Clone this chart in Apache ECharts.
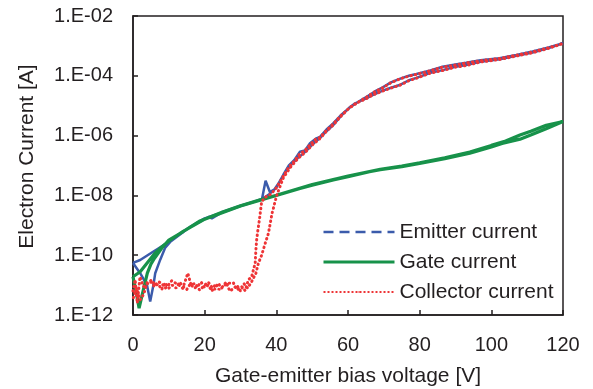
<!DOCTYPE html>
<html>
<head>
<meta charset="utf-8">
<script src="https://cdn.jsdelivr.net/npm/echarts@6/dist/echarts.min.js"></script>
<style>
  html, body { margin: 0; padding: 0; background: #fff; }
  #chart { width: 593px; height: 389px; }
</style>
</head>
<body>
<div id="chart"></div>
<script>
// x tick labels
var xTicks = [0, 20, 40, 60, 80, 100, 120];

// emitter current: forward sweep then return sweep
var emitterV = [0, 2.0, 3.9, 4.8, 5.7, 6.2, 7.6, 9, 10.4, 13.2, 16, 20, 21, 22, 25, 30, 34, 36, 37, 38.2, 39.5, 40.5, 42, 43.5, 45, 46.6, 48, 49.4, 51, 52.2, 54, 55.8, 58, 60.5, 63, 65.2, 67.5, 69.7, 72, 74.4, 77, 79.1, 83, 86.4, 90, 93, 97, 102.3, 107, 111.5, 116, 120,
  116, 111.5, 107, 102.3, 97, 93, 90, 86.4, 83, 79.1, 77, 74.4, 72, 69.7, 67, 65.2, 62, 60.5, 58, 55.8, 54, 52, 50, 48, 46, 44, 42, 40, 38, 36, 30, 25, 20, 16, 12.6, 9.4, 5.6, 2.0, 0];
var emitterA = [5.5e-11, 2.5e-11, 1.0e-11, 2.8e-12, 1.0e-11, 2.5e-11, 7.1e-11, 1.8e-10, 2.8e-10, 5.0e-10, 8.9e-10, 1.6e-9, 1.9e-9, 1.7e-9, 2.8e-9, 4.5e-9, 6.3e-9, 7.6e-9, 3.1e-8, 1.3e-8, 1.6e-8, 2.4e-8, 5.0e-8, 1.0e-7, 1.5e-7, 2.9e-7, 3.2e-7, 5.6e-7, 7.9e-7, 9.1e-7, 1.6e-6, 2.5e-6, 4.8e-6, 8.7e-6, 1.38e-5, 2.0e-5, 3.0e-5, 4.1e-5, 6.0e-5, 7.9e-5, 1.0e-4, 1.15e-4, 1.5e-4, 2.0e-4, 2.4e-4, 2.75e-4, 3.3e-4, 3.9e-4, 5.0e-4, 6.5e-4, 8.9e-4, 1.23e-3,
  8.5e-4, 6.0e-4, 4.7e-4, 3.6e-4, 2.95e-4, 2.3e-4, 2.0e-4, 1.55e-4, 1.26e-4, 8.5e-5, 7.1e-5, 4.9e-5, 4.0e-5, 3.2e-5, 2.3e-5, 1.8e-5, 1.2e-5, 8.9e-6, 4.5e-6, 2.2e-6, 1.4e-6, 7.9e-7, 5.0e-7, 2.8e-7, 1.8e-7, 1.0e-7, 5.0e-8, 1.8e-8, 1.1e-8, 7.4e-9, 4.4e-9, 2.7e-9, 1.7e-9, 8.9e-10, 4.8e-10, 2.5e-10, 1.3e-10, 6.9e-11, 5.5e-11];

// gate current
var gateV = [0, 1, 1.7, 3, 4, 5, 6, 8, 10, 14, 18.7, 25, 30, 35.5, 40, 46.6, 50, 55.9, 60, 66, 69, 75, 80, 87, 94, 100, 103, 108, 111, 115.3, 120,
  115.3, 111, 108, 104, 100, 94, 87, 80, 75, 69, 60, 50, 40, 30, 20, 14, 10, 8, 6, 4, 2, 0];
var gateA = [1.9e-11, 5.0e-12, 1.7e-12, 7.9e-12, 2.5e-11, 5.0e-11, 7.9e-11, 1.7e-10, 3.2e-10, 6.2e-10, 1.4e-9, 2.8e-9, 4.5e-9, 7.1e-9, 1.0e-8, 1.7e-8, 2.2e-8, 3.3e-8, 4.2e-8, 6.2e-8, 7.2e-8, 9.1e-8, 1.17e-7, 1.7e-7, 2.6e-7, 4.2e-7, 5.5e-7, 7.6e-7, 1.05e-6, 1.7e-6, 2.95e-6,
  2.2e-6, 1.4e-6, 1.05e-6, 6.6e-7, 4.7e-7, 2.8e-7, 1.8e-7, 1.23e-7, 9.5e-8, 7.4e-8, 4.4e-8, 2.3e-8, 1.0e-8, 4.4e-9, 1.6e-9, 6.3e-10, 3.0e-10, 1.9e-10, 1.12e-10, 5.6e-11, 2.8e-11, 1.9e-11];

// collector current
var collectorV = [0, 0.6, 1.2, 1.95, 2.9, 4, 5.2, 6.1, 7.1, 8.0, 9.0, 9.9, 10.8, 11.7, 12.8, 13.9, 15.3, 16.2, 17.3, 18.6, 20.0, 21, 21.9, 22.8, 23.8, 24.7, 25.6, 26.6, 28, 29, 30.4, 31.3, 32.2, 33.1, 33.6, 34.1, 34.3, 34.5, 34.8, 35.3, 35.9, 37, 38.5, 40, 42, 43.5, 45, 46.6, 48, 49.4, 51, 52.2, 54, 55.8, 58, 60.5, 63, 65.2, 67.5, 69.7, 72, 74.4, 77, 79.1, 83, 86.4, 90, 93, 97, 102.3, 107, 111.5, 116, 120,
  116, 111.5, 107, 102.3, 97, 93, 90, 86.4, 83, 79.1, 77, 74.4, 72, 69.7, 67, 65.2, 62, 60.5, 58, 55.8, 54, 52, 50, 48, 46, 44, 42, 40.1, 38.8, 37.8, 36.9, 35.9, 35, 34.3, 33.1,
  32, 31, 30, 29, 28.2, 27, 26, 25, 24, 23, 22, 21, 20, 19, 18, 17, 16, 15, 14, 13, 12, 11, 10, 9, 8, 7, 6, 5, 4, 3, 2, 1, 0];
var collectorA = [6.3e-12, 1.5e-11, 2.5e-12, 1.9e-11, 8.9e-12, 1.1e-11, 1.5e-11, 1.0e-11, 1.3e-11, 1.15e-11, 7.9e-12, 1.0e-11, 1.4e-11, 1.2e-11, 1.0e-11, 7.8e-12, 2.5e-11, 1.0e-11, 1.15e-11, 6.8e-12, 1.0e-11, 1.26e-11, 8.9e-12, 7.1e-12, 1.15e-11, 7.9e-12, 1.0e-11, 1.15e-11, 1.2e-11, 6.9e-12, 8.9e-12, 6.5e-12, 1.5e-11, 1.9e-11, 3.2e-11, 5.4e-11, 1.5e-10, 3.2e-10, 6.2e-10, 1.6e-9, 6.2e-9, 8.9e-9, 1.1e-8, 1.8e-8, 4.5e-8, 8.9e-8, 1.4e-7, 2.5e-7, 3.2e-7, 5.0e-7, 7.6e-7, 8.7e-7, 1.5e-6, 2.4e-6, 4.7e-6, 8.5e-6, 1.35e-5, 1.95e-5, 2.95e-5, 4.0e-5, 5.9e-5, 7.8e-5, 9.8e-5, 1.12e-4, 1.48e-4, 1.95e-4, 2.3e-4, 2.7e-4, 3.2e-4, 3.8e-4, 4.9e-4, 6.3e-4, 8.7e-4, 1.2e-3,
  8.3e-4, 5.9e-4, 4.6e-4, 3.5e-4, 2.9e-4, 2.2e-4, 1.95e-4, 1.5e-4, 1.23e-4, 8.3e-5, 6.9e-5, 4.8e-5, 3.9e-5, 3.1e-5, 2.3e-5, 1.74e-5, 1.17e-5, 8.7e-6, 4.4e-6, 2.2e-6, 1.4e-6, 7.6e-7, 4.8e-7, 2.7e-7, 1.7e-7, 8.9e-8, 4.0e-8, 1.0e-8, 2.5e-9, 5.4e-10, 2.5e-10, 1.0e-10, 5.4e-11, 2.5e-11, 1.3e-11,
  7.9e-12, 1.1e-11, 6.3e-12, 1.0e-11, 7.9e-12, 6.3e-12, 1.26e-11, 8.9e-12, 7.1e-12, 1.1e-11, 6.3e-12, 1.0e-11, 8.3e-12, 1.26e-11, 8.9e-12, 7.9e-12, 1.1e-11, 7.1e-12, 8.9e-12, 1.26e-11, 7.9e-12, 1.0e-11, 7.9e-12, 1.2e-11, 7.1e-12, 1.1e-11, 8.9e-12, 1.26e-11, 1.26e-11, 5.0e-12, 3.2e-12, 7.9e-12, 3.5e-12];

var textColor = "#231f20";
var fontFamily = "'Liberation Sans', Arial, sans-serif";

function pairs(v, a) {
  return v.map(function (x, i) { return [x, a[i]]; });
}

function expLabel(val) {
  var e = Math.round(Math.log10(val));
  var s = Math.abs(e) < 10 ? "0" + Math.abs(e) : "" + Math.abs(e);
  return "1.E" + (e < 0 ? "-" : "+") + s;
}

var option = {
  animation: false,
  backgroundColor: "#fff",
  textStyle: { fontFamily: fontFamily },
  grid: {
    left: 133,
    right: 30,
    top: 16,
    bottom: 74,
    outerBoundsMode: "none",
    show: true,
    borderColor: textColor,
    borderWidth: 1.5
  },
  legend: {
    orient: "vertical",
    left: 322,
    top: 221,
    padding: 0,
    itemWidth: 71,
    itemHeight: 2,
    itemGap: 8,
    textStyle: { color: textColor, fontSize: 21, fontFamily: fontFamily, lineHeight: 22 },
    data: [
      { name: "Emitter current", lineStyle: { type: [10, 6], width: 2.5 } },
      { name: "Gate current", lineStyle: { width: 3 } },
      { name: "Collector current", lineStyle: { type: [2, 2], width: 2, cap: "butt" } }
    ]
  },
  xAxis: {
    type: "value",
    min: xTicks[0],
    max: xTicks[xTicks.length - 1],
    interval: 20,
    name: "Gate-emitter bias voltage [V]",
    nameLocation: "middle",
    nameGap: 51,
    nameTextStyle: { color: textColor, fontSize: 21, fontFamily: fontFamily },
    axisLine: { lineStyle: { color: textColor, width: 1.5 } },
    axisTick: { inside: true, length: 5, lineStyle: { color: textColor, width: 1.5 } },
    axisLabel: { color: textColor, fontSize: 20, margin: 20, fontFamily: fontFamily },
    splitLine: { show: false }
  },
  yAxis: {
    type: "log",
    logBase: 10,
    min: 1e-12,
    max: 1e-2,
    interval: 2,
    name: "Electron Current [A]",
    nameLocation: "middle",
    nameGap: 95,
    nameTextStyle: { color: textColor, fontSize: 21, fontFamily: fontFamily, padding: [0, 0, 0, 18] },
    axisLine: { lineStyle: { color: textColor, width: 1.5 } },
    axisTick: { inside: true, length: 5, lineStyle: { color: textColor, width: 1.5 } },
    minorTick: { show: false },
    axisLabel: { color: textColor, fontSize: 20, margin: 20, padding: [6, 0, 0, 0], fontFamily: fontFamily, formatter: expLabel },
    splitLine: { show: false }
  },
  series: [
    {
      name: "Emitter current",
      type: "line",
      data: pairs(emitterV, emitterA),
      showSymbol: false,
      symbol: "none",
      lineStyle: { color: "#3b5bab", width: 2.5 },
      itemStyle: { color: "#3b5bab" }
    },
    {
      name: "Gate current",
      type: "line",
      data: pairs(gateV, gateA),
      showSymbol: false,
      symbol: "none",
      lineStyle: { color: "#17924a", width: 3.2 },
      itemStyle: { color: "#17924a" }
    },
    {
      name: "Collector current",
      type: "line",
      data: pairs(collectorV, collectorA),
      showSymbol: false,
      symbol: "none",
      lineStyle: { color: "#ee3436", width: 3, type: [0.5, 4], cap: "round" },
      itemStyle: { color: "#ee3436" }
    }
  ]
};

var chart = echarts.init(document.getElementById("chart"));
chart.setOption(option);
</script>
</body>
</html>
